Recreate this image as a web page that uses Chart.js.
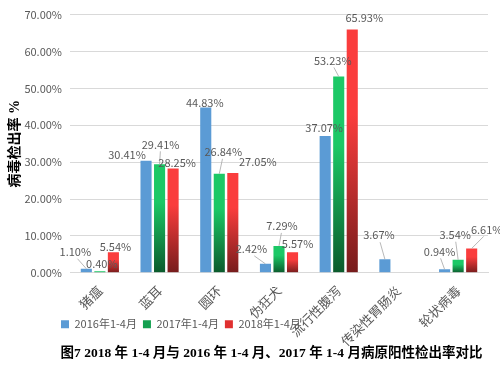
<!DOCTYPE html>
<html>
<head>
<meta charset="utf-8">
<script src="https://cdn.jsdelivr.net/npm/chart.js@4.4.1/dist/chart.umd.min.js"></script>
<style>
  html, body { margin: 0; padding: 0; background: #fff; }
  #wrap { width: 500px; height: 368px; }
</style>
</head>
<body>
<div id="wrap"><canvas id="grafica"></canvas></div>
<script>
var categorias = ["猪瘟", "蓝耳", "圆环", "伪狂犬", "流行性腹泻", "传染性胃肠炎", "轮状病毒"]
var series = ["2016年1-4月", "2017年1-4月", "2018年1-4月"]
var valores2016 = [1.10, 30.41, 44.83, 2.42, 37.07, 3.67, 0.94]
var valores2017 = [0.40, 29.41, 26.84, 7.29, 53.23, null, 3.54]
var valores2018 = [5.54, 28.25, 27.05, 5.57, 65.93, null, 6.61]

var coloresLeyenda = ["#5b9bd5", "#14a050", "#e03030"]

// desplazamiento de cada etiqueta respecto a la parte alta de su barra
var etiquetaDX = [[-11, -19, -1, -14, -1, -6, -5], [2, 1, 4, 3, -6, 0, -3], [2, 4, 25, 5, 12, 0, 15]]
var etiquetaDY = [[-17, -6, -5, -15, -8, -24, -18], [-8, -20, -22, -20, -16, 0, -25], [-6, -6, -11, -8, -12, 0, -19]]

var fuente = '"Noto Sans CJK SC", "DejaVu Sans", sans-serif'
var fuenteTitulo = '"Liberation Serif", "Noto Sans CJK SC", serif'

function degradado(claro, oscuro, plano) {
    return function (context) {
        var chart = context.chart
        if (context.type !== 'data' || context.raw == null || !chart.chartArea) return plano
        var y = chart.scales.y
        var arriba = y.getPixelForValue(context.raw)
        var abajo = y.getPixelForValue(0)
        if (abajo - arriba < 1) return plano
        var g = chart.ctx.createLinearGradient(0, arriba, 0, abajo)
        g.addColorStop(0, claro)
        g.addColorStop(0.35, claro)
        g.addColorStop(1, oscuro)
        return g
    }
}

var etiquetas = {
    id: 'etiquetas',
    afterDatasetsDraw: function (chart) {
        var ctx = chart.ctx
        ctx.save()
        ctx.font = '11px ' + fuente
        ctx.fillStyle = '#595959'
        ctx.textAlign = 'center'
        ctx.textBaseline = 'middle'
        chart.data.datasets.forEach(function (ds, i) {
            var meta = chart.getDatasetMeta(i)
            meta.data.forEach(function (el, j) {
                var v = ds.data[j]
                if (v == null) return
                var x = el.x + etiquetaDX[i][j]
                var y = el.y + etiquetaDY[i][j]
                if (etiquetaDY[i][j] < -12) {
                    ctx.strokeStyle = '#a6a6a6'
                    ctx.lineWidth = 0.8
                    ctx.beginPath()
                    ctx.moveTo(x + (el.x - x) * 0.2, y + 7)
                    ctx.lineTo(el.x, el.y)
                    ctx.stroke()
                }
                ctx.fillText(v.toFixed(2) + '%', x, y)
            })
        })
        ctx.restore()
    }
}

// la leyenda y el titulo van algo a la derecha; las etiquetas del eje x no se recortan
var ajustes = {
    id: 'ajustes',
    afterLayout: function (chart) {
        chart.legend.left += 48
        chart.titleBlock.left += 24
        chart.titleBlock.right += 24
        chart.scales.x.bottom = chart.height
    }
}

var ctx = document.getElementById('grafica').getContext('2d')

new Chart(ctx, {
    type: 'bar',
    data: {
        labels: categorias,
        datasets: [{
            label: series[0],
            data: valores2016,
            backgroundColor: '#5b9bd5'
        }, {
            label: series[1],
            data: valores2017,
            backgroundColor: degradado('#1cc866', '#0b5a2c', '#1aa85a')
        }, {
            label: series[2],
            data: valores2018,
            backgroundColor: degradado('#fa3d3d', '#761c1c', '#e03535')
        }]
    },
    options: {
        responsive: true,
        maintainAspectRatio: false,
        animation: false,
        datasets: {
            bar: { barPercentage: 0.82, categoryPercentage: 0.68 }
        },
        layout: { padding: { left: 7, right: 12, top: 10, bottom: 2 } },
        scales: {
            x: {
                grid: { display: false },
                border: { color: '#d9d9d9' },
                ticks: {
                    color: '#595959',
                    font: { size: 13, family: fuente },
                    minRotation: 45,
                    maxRotation: 45,
                    padding: 2
                },
                afterFit: function (scale) {
                    scale.height = 40
                    scale.paddingLeft = 0
                    scale.paddingRight = 0
                }
            },
            y: {
                min: 0,
                max: 70,
                grid: { color: '#d9d9d9', drawTicks: false },
                border: { display: false },
                ticks: {
                    stepSize: 10,
                    color: '#595959',
                    padding: 8,
                    font: { size: 11, family: fuente },
                    callback: function (v) { return v.toFixed(2) + '%' }
                },
                title: {
                    display: true,
                    text: '病毒检出率 %',
                    color: '#000',
                    font: { size: 14, weight: 'bold', family: fuenteTitulo },
                    padding: { top: 0, bottom: 2 }
                },
                afterFit: function (scale) { scale.width = 63 }
            }
        },
        plugins: {
            legend: {
                position: 'bottom',
                align: 'start',
                labels: {
                    boxWidth: 8,
                    boxHeight: 8,
                    padding: 6,
                    color: '#595959',
                    font: { size: 11, family: fuente },
                    generateLabels: function (chart) {
                        var items = Chart.defaults.plugins.legend.labels.generateLabels(chart)
                        items.forEach(function (it, k) {
                            it.fillStyle = coloresLeyenda[k]
                            it.strokeStyle = coloresLeyenda[k]
                            it.lineWidth = 0
                        })
                        return items
                    }
                }
            },
            title: {
                display: true,
                position: 'bottom',
                text: '图7 2018 年 1-4 月与 2016 年 1-4 月、2017 年 1-4 月病原阳性检出率对比',
                color: '#000',
                font: { size: 13.5, weight: 'bold', family: fuenteTitulo },
                padding: { top: 6, bottom: 4 }
            },
            tooltip: { enabled: false }
        }
    },
    plugins: [etiquetas, ajustes]
});
</script>
</body>
</html>
